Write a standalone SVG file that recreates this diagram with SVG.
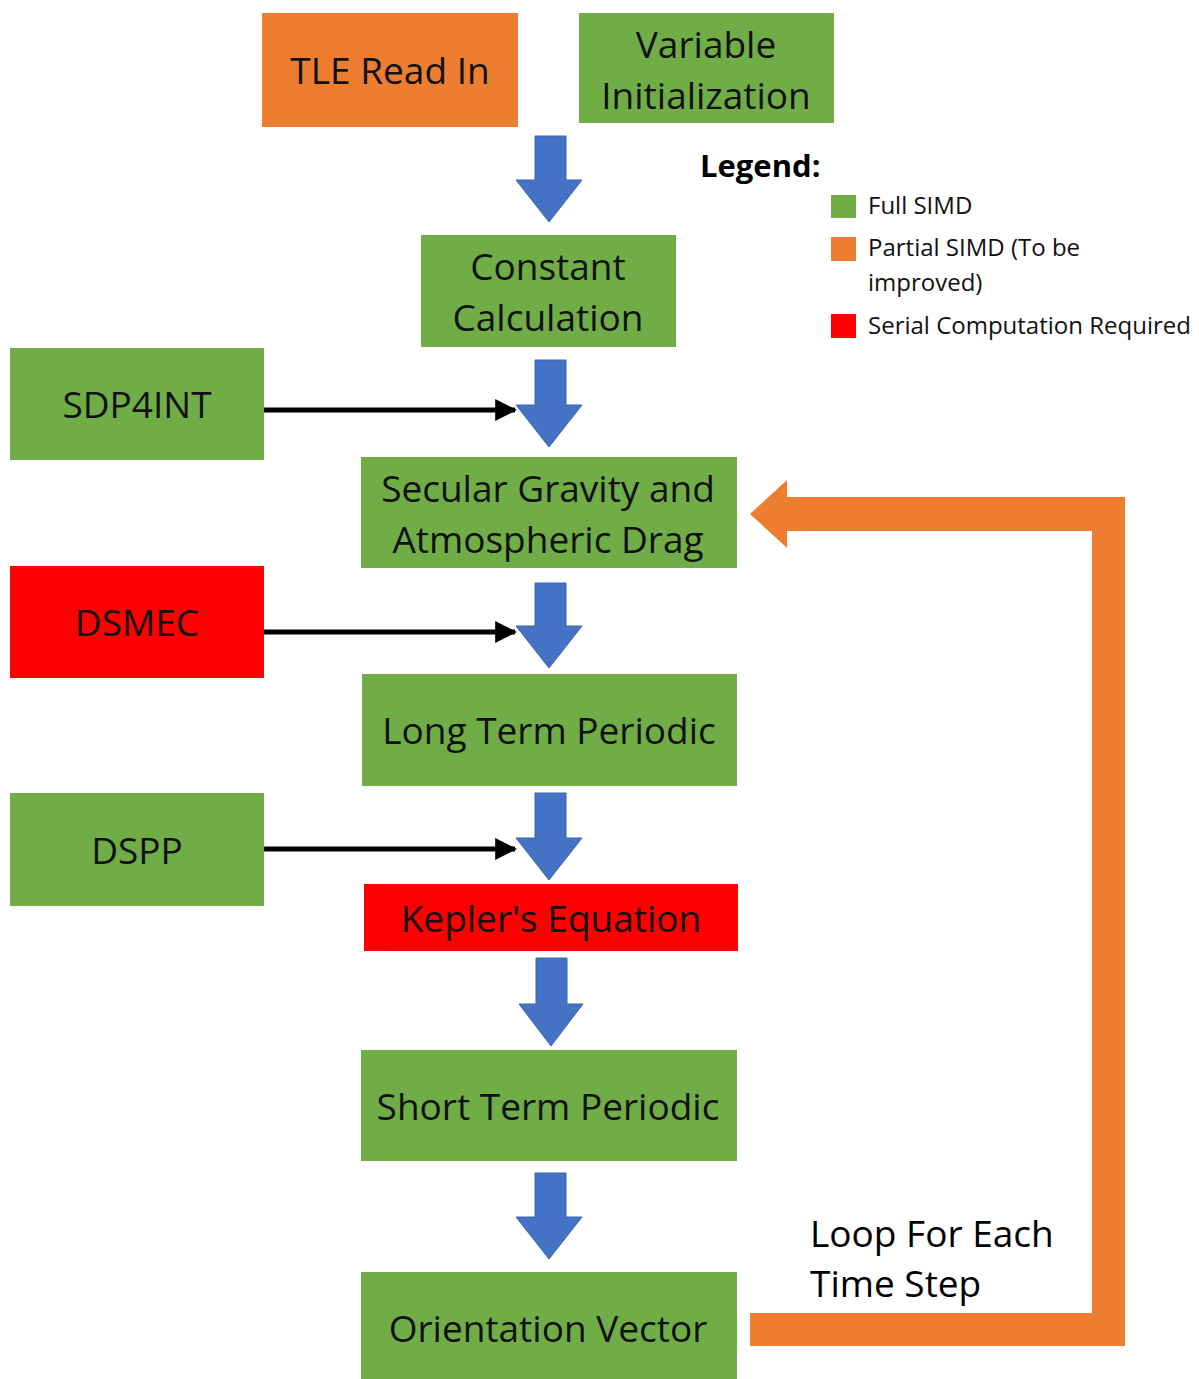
<svg xmlns="http://www.w3.org/2000/svg" width="1199" height="1379" viewBox="0 0 1199 1379">
<defs>
<style>
.g{fill:#70AD47}
.o{fill:#ED7D31}
.r{fill:#FF0000}
.t{font-family:"Open Sans","Noto Sans",sans-serif;font-size:37px;fill:#111;text-anchor:middle}
.lg{font-family:"Open Sans","Noto Sans",sans-serif;font-size:24px;fill:#111}
.lb{font-family:"Open Sans","Noto Sans",sans-serif;font-size:31px;font-weight:bold;fill:#000}
.lp{font-family:"Open Sans","Noto Sans",sans-serif;font-size:37px;fill:#000}
.ba{fill:#4472C4;stroke:#3a64ad;stroke-width:1}
.bl{stroke:#000;stroke-width:5;fill:none}
</style>
<marker id="ah" viewBox="0 0 10 10" refX="9" refY="5" markerWidth="4.4" markerHeight="4.4" orient="auto" markerUnits="strokeWidth">
<path d="M0,0 L10,5 L0,10 z" fill="#000"/>
</marker>
</defs>
<rect width="1199" height="1379" fill="#fff"/>

<g id="tle"><rect class="o" x="262" y="13" width="256" height="114"/><text class="t" x="390" y="84">TLE Read In</text></g>
<g id="varinit"><rect class="g" x="579" y="13" width="255" height="110"/><text class="t" x="706" y="58">Variable</text><text class="t" x="706" y="109">Initialization</text></g>
<g id="const"><rect class="g" x="421" y="235" width="255" height="112"/><text class="t" x="548" y="280">Constant</text><text class="t" x="548" y="331">Calculation</text></g>
<g id="sdp4int"><rect class="g" x="10" y="348" width="254" height="112"/><text class="t" x="137" y="418">SDP4INT</text></g>
<g id="secular"><rect class="g" x="361" y="457" width="376" height="111"/><text class="t" x="548" y="502">Secular Gravity and</text><text class="t" x="548" y="553">Atmospheric Drag</text></g>
<g id="dsmec"><rect class="r" x="10" y="566" width="254" height="112"/><text class="t" x="137" y="636">DSMEC</text></g>
<g id="longterm"><rect class="g" x="362" y="674" width="375" height="112"/><text class="t" x="549" y="744">Long Term Periodic</text></g>
<g id="dspp"><rect class="g" x="10" y="793" width="254" height="113"/><text class="t" x="137" y="864">DSPP</text></g>
<g id="kepler"><rect class="r" x="364" y="884" width="374" height="67"/><text class="t" x="551" y="932">Kepler's Equation</text></g>
<g id="shortterm"><rect class="g" x="361" y="1050" width="376" height="111"/><text class="t" x="548" y="1120">Short Term Periodic</text></g>
<g id="orient"><rect class="g" x="361" y="1272" width="376" height="107"/><text class="t" x="548" y="1342">Orientation Vector</text></g>

<g id="legend">
<text class="lb" x="700" y="177">Legend:</text>
<rect class="g" x="831" y="195" width="25" height="23"/><text class="lg" x="868" y="214">Full SIMD</text>
<rect class="o" x="831" y="237" width="25" height="24"/><text class="lg" x="868" y="256">Partial SIMD (To be</text><text class="lg" x="868" y="291">improved)</text>
<rect class="r" x="831" y="314" width="25" height="24"/><text class="lg" x="868" y="334">Serial Computation Required</text>
</g>

<g id="connectors">
<path class="ba" d="M535,136 H566 V180 H582 L549,222 L516,180 H535 Z"/>
<path class="ba" d="M535,360 H566 V405 H582 L549,447 L516,405 H535 Z"/>
<path class="ba" d="M535,583 H566 V626 H582 L549,668 L516,626 H535 Z"/>
<path class="ba" d="M535,793 H566 V838 H582 L549,880 L516,838 H535 Z"/>
<path class="ba" d="M536,958 H567 V1004 H583 L551,1046 L519,1004 H536 Z"/>
<path class="ba" d="M535,1173 H566 V1217 H582 L549,1259 L516,1217 H535 Z"/>
<line class="bl" x1="264" y1="410" x2="515" y2="410" marker-end="url(#ah)"/>
<line class="bl" x1="264" y1="632" x2="515" y2="632" marker-end="url(#ah)"/>
<line class="bl" x1="264" y1="849" x2="515" y2="849" marker-end="url(#ah)"/>
<path class="o" d="M750,1313 H1092 V531 H787 V548 L750,514 L787,480 V497 H1125 V1346 H750 Z"/>
<text class="lp" x="810" y="1247">Loop For Each</text>
<text class="lp" x="810" y="1297">Time Step</text>
</g>
</svg>
